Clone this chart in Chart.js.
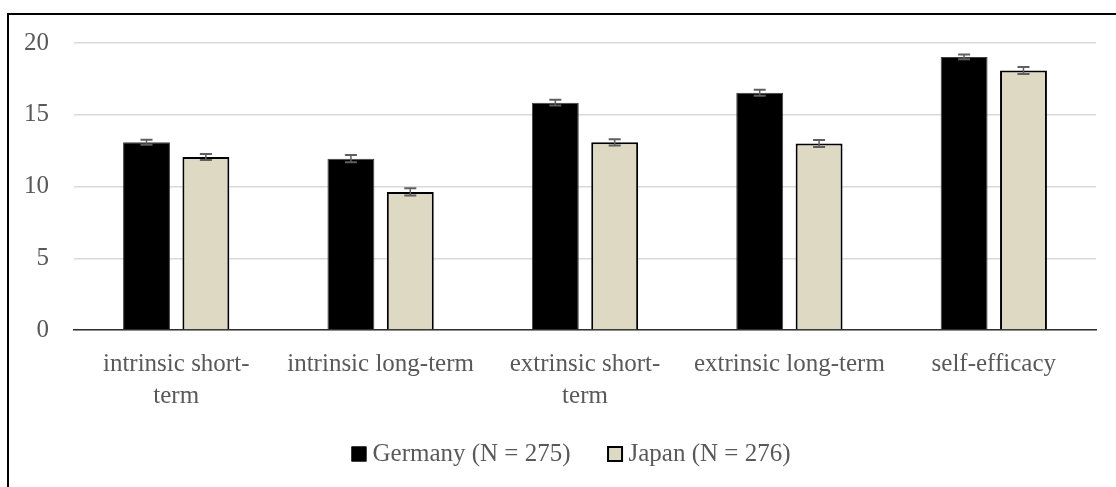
<!DOCTYPE html>
<html>
<head>
<meta charset="utf-8">
<script src="https://cdn.jsdelivr.net/npm/chart.js@4"></script>
<style>
  html, body { margin: 0; padding: 0; background: #fff; overflow: hidden; }
  #frame { position: absolute; left: 7px; top: 13px; width: 1120px; height: 490px;
           border-left: 2px solid #000; border-top: 2px solid #000; }
  #c { position: absolute; left: 0; top: 0; }
</style>
</head>
<body>
<div id="frame"><canvas id="c" width="1107" height="472"></canvas></div>
<script>
const categories = [["intrinsic short-", "term"], "intrinsic long-term", ["extrinsic short-", "term"], "extrinsic long-term", "self-efficacy"];
const seriesNames = ["Germany (N = 275)", "Japan (N = 276)"];
const germanyValues = [13.08, 11.94, 15.84, 16.54, 19.03];
const japanValues = [12.05, 9.62, 13.08, 13.0, 18.08];
const germanyErrors = [0.17, 0.25, 0.2, 0.21, 0.17];
const japanErrors = [0.21, 0.25, 0.22, 0.24, 0.24];
const yTicks = [0, 5, 10, 15, 20];

const FONT = "'Liberation Serif', 'Times New Roman', serif";
const TXT = '#595959';

const errorBarPlugin = {
  id: 'errorBars',
  afterDatasetsDraw(chart) {
    const ctx = chart.ctx;
    const y = chart.scales.y;
    chart.data.datasets.forEach((ds, di) => {
      const meta = chart.getDatasetMeta(di);
      meta.data.forEach((bar, i) => {
        const v = ds.data[i], e = ds.errors[i];
        const yt = y.getPixelForValue(v + e), yb = y.getPixelForValue(v - e);
        const x = bar.x, hw = 6;
        ctx.save();
        ctx.strokeStyle = '#5f5f5f';
        ctx.lineWidth = 1.5;
        ctx.beginPath(); ctx.moveTo(x, yt); ctx.lineTo(x, yb); ctx.stroke();
        ctx.lineWidth = 2;
        ctx.beginPath();
        ctx.moveTo(x - hw, yt); ctx.lineTo(x + hw, yt);
        ctx.moveTo(x - hw, yb); ctx.lineTo(x + hw, yb);
        ctx.stroke();
        ctx.restore();
      });
    });
  }
};

const legendPlugin = {
  id: 'customLegend',
  afterDraw(chart) {
    const ctx = chart.ctx;
    ctx.save();
    ctx.font = '25px ' + FONT;
    const box = 15, gap = 6, spacing = 37;
    const items = chart.data.datasets.map(ds => ({ ds, w: ctx.measureText(ds.label).width }));
    const total = items.reduce((s, it) => s + box + gap + it.w, 0) + spacing * (items.length - 1);
    let x = 562 - total / 2;
    const cy = 439;
    items.forEach(it => {
      ctx.fillStyle = it.ds.backgroundColor;
      ctx.fillRect(x, cy - box / 2, box, box);
      ctx.strokeStyle = '#000';
      ctx.lineWidth = it.ds.label.startsWith('Japan') ? 2 : 1;
      ctx.strokeRect(x + 0.5, cy - box / 2 + 0.5, box - 1, box - 1);
      ctx.fillStyle = TXT;
      ctx.textBaseline = 'alphabetic';
      ctx.fillText(it.ds.label, x + box + gap, cy + 7);
      x += box + gap + it.w + spacing;
    });
    ctx.restore();
  }
};

new Chart(document.getElementById('c'), {
  type: 'bar',
  data: {
    labels: categories,
    datasets: [
      { label: seriesNames[0], data: germanyValues, errors: germanyErrors,
        backgroundColor: '#000000', borderColor: '#404040', borderWidth: 1,
        categoryPercentage: 0.581, barPercentage: 0.79 },
      { label: seriesNames[1], data: japanValues, errors: japanErrors,
        backgroundColor: '#DDD9C3', borderColor: '#000000', borderWidth: 2,
        categoryPercentage: 0.581, barPercentage: 0.79 }
    ]
  },
  options: {
    responsive: false,
    animation: false,
    layout: { padding: { top: 28, right: 20, bottom: 0, left: 0 } },
    plugins: { legend: { display: false }, tooltip: { enabled: false } },
    scales: {
      x: {
        grid: { display: false, drawTicks: false },
        border: { display: true, color: '#303030', width: 1.5 },
        ticks: { color: TXT, font: { family: FONT, size: 25, lineHeight: 1.28 }, padding: 18, maxRotation: 0, autoSkip: false },
        afterFit(s) { s.height = 157; }
      },
      y: {
        min: 0, max: 20,
        afterBuildTicks(s) { s.ticks = yTicks.map(v => ({ value: v })); },
        grid: { color: '#d9d9d9', lineWidth: 1.5, drawTicks: true, tickLength: 25, tickColor: 'rgba(0,0,0,0)' },
        border: { display: false },
        ticks: { color: TXT, font: { family: FONT, size: 25 }, padding: 0 },
        afterFit(s) { s.width = 65; }
      }
    }
  },
  plugins: [errorBarPlugin, legendPlugin]
});
</script>
</body>
</html>
